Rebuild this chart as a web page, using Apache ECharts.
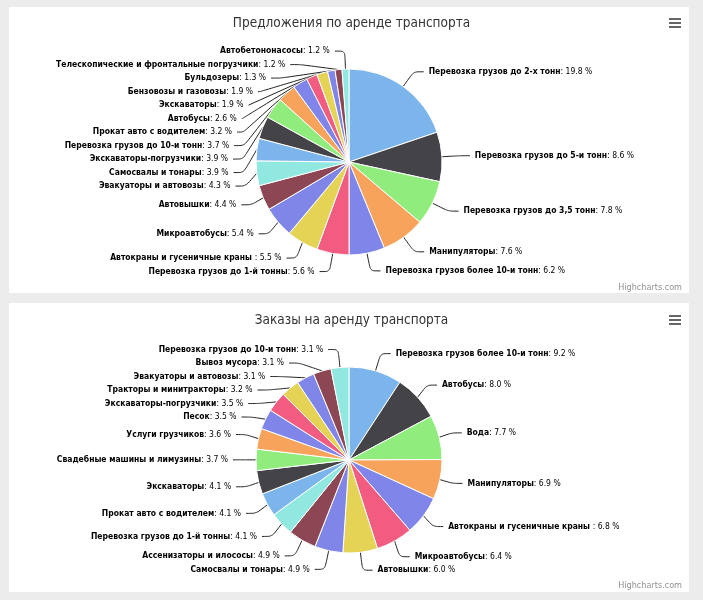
<!DOCTYPE html>
<html>
<head>
<meta charset="utf-8">
<script src="https://cdn.jsdelivr.net/npm/echarts@6/dist/echarts.min.js"></script>
<style>
html,body{margin:0;padding:0;background:#ececec;}
#c{width:703px;height:600px;}
</style>
</head>
<body>
<div id="c"></div>
<script>
// Chart 1: offers
const title1 = 'Предложения по аренде транспорта';
const names1 = [
  'Перевозка грузов до 2-х тонн','Перевозка грузов до 5-и тонн','Перевозка грузов до 3,5 тонн',
  'Манипуляторы','Перевозка грузов более 10-и тонн','Перевозка грузов до 1-й тонны',
  'Автокраны и гусеничные краны ','Микроавтобусы','Автовышки','Эвакуаторы и автовозы',
  'Самосвалы и тонары','Экскаваторы-погрузчики','Перевозка грузов до 10-и тонн',
  'Прокат авто с водителем','Автобусы','Экскаваторы','Бензовозы и газовозы','Бульдозеры',
  'Телескопические и фронтальные погрузчики','Автобетононасосы'
];
const values1 = [19.8,8.6,7.8,7.6,6.2,5.6,5.5,5.4,4.4,4.3,3.9,3.9,3.7,3.2,2.6,1.9,1.9,1.3,1.2,1.2];

// Chart 2: orders
const title2 = 'Заказы на аренду транспорта';
const names2 = [
  'Перевозка грузов более 10-и тонн','Автобусы','Вода','Манипуляторы',
  'Автокраны и гусеничные краны ','Микроавтобусы','Автовышки','Самосвалы и тонары',
  'Ассенизаторы и илососы','Перевозка грузов до 1-й тонны','Прокат авто с водителем',
  'Экскаваторы','Свадебные машины и лимузины','Услуги грузчиков','Песок',
  'Экскаваторы-погрузчики','Тракторы и минитракторы','Эвакуаторы и автовозы',
  'Вывоз мусора','Перевозка грузов до 10-и тонн'
];
const values2 = [9.2,8.0,7.7,6.9,6.8,6.4,6.0,4.9,4.9,4.1,4.1,4.1,3.7,3.6,3.5,3.5,3.2,3.1,3.1,3.1];

const palette = ['#7cb5ec','#434348','#90ed7d','#f7a35c','#8085e9','#f15c80','#e4d354','#8085e8','#8d4653','#91e8e1'];
const FONT = '"DejaVu Sans Condensed", "DejaVu Sans", sans-serif';

function toData(names, values){
  return names.map((n,i)=>({name:n, value:values[i], itemStyle:{color:palette[i % palette.length]}}));
}
function pieSeries(names, values, cy){
  return {
    type:'pie',
    radius:93,
    center:[349, cy],
    startAngle:90,
    clockwise:true,
    animation:false,
    data:toData(names, values),
    itemStyle:{borderColor:'#fff', borderWidth:1},
    label:{
      show:true,
      formatter:p => '{b|' + p.name + '}: ' + p.value.toFixed(1) + ' %',
      color:'#000',
      fontFamily:FONT,
      fontSize:8.5,
      lineHeight:11.5,
      rich:{b:{fontWeight:'bold', fontFamily:FONT, fontSize:8.5, lineHeight:11.5, color:'#000'}}
    },
    labelLine:{show:true, length:18, length2:10, smooth:0.25, lineStyle:{color:'#222', width:1}},
    emphasis:{disabled:true}
  };
}
function burger(y){
  return [0,4,8].map(d=>({type:'rect', shape:{x:669, y:y+d, width:12, height:2}, style:{fill:'#666'}}));
}
const chart = echarts.init(document.getElementById('c'), null, {renderer:'canvas'});
chart.setOption({
  backgroundColor:'#ececec',
  title:[
    {text:title1, left:'center', top:11, textStyle:{fontFamily:FONT, fontSize:13.5, fontWeight:'normal', color:'#333'}},
    {text:title2, left:'center', top:308, textStyle:{fontFamily:FONT, fontSize:13.5, fontWeight:'normal', color:'#333'}}
  ],
  graphic:[
    {type:'rect', z:-10, shape:{x:9, y:7, width:680, height:286}, style:{fill:'#fff'}},
    {type:'rect', z:-10, shape:{x:9, y:303, width:680, height:289}, style:{fill:'#fff'}},
    ...burger(18), ...burger(315),
    {type:'text', style:{x:682, y:288, text:'Highcharts.com', align:'right', verticalAlign:'middle', fill:'#909090', font:'9px ' + FONT}},
    {type:'text', style:{x:682, y:586, text:'Highcharts.com', align:'right', verticalAlign:'middle', fill:'#909090', font:'9px ' + FONT}}
  ],
  series:[pieSeries(names1, values1, 162), pieSeries(names2, values2, 460)]
});
</script>
</body>
</html>
